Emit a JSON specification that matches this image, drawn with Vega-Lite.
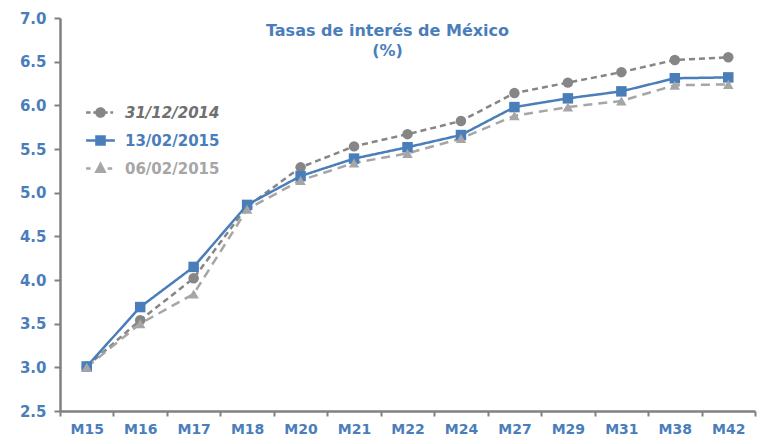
{
  "$schema": "https://vega.github.io/schema/vega-lite/v6.json",
  "width": 695,
  "height": 393,
  "autosize": {"type": "none"},
  "padding": {"left": 60, "top": 18, "right": 5, "bottom": 33},
  "background": "white",
  "config": {
    "view": {"stroke": null},
    "font": "DejaVu Sans"
  },
  "title": {
    "text": ["Tasas de interés de México", "(%)"],
    "color": "#4a7ebb",
    "fontSize": 16,
    "fontWeight": "bold",
    "font": "DejaVu Sans",
    "anchor": "middle",
    "frame": "group",
    "dx": -20,
    "offset": -48,
    "baseline": "top",
    "lineHeight": 20
  },
  "data": {
    "values": [
      {"m": "M15", "s": "31/12/2014", "v": 3.01},
      {"m": "M16", "s": "31/12/2014", "v": 3.54},
      {"m": "M17", "s": "31/12/2014", "v": 4.02},
      {"m": "M18", "s": "31/12/2014", "v": 4.84},
      {"m": "M20", "s": "31/12/2014", "v": 5.29},
      {"m": "M21", "s": "31/12/2014", "v": 5.53},
      {"m": "M22", "s": "31/12/2014", "v": 5.67},
      {"m": "M24", "s": "31/12/2014", "v": 5.82},
      {"m": "M27", "s": "31/12/2014", "v": 6.14},
      {"m": "M29", "s": "31/12/2014", "v": 6.26},
      {"m": "M31", "s": "31/12/2014", "v": 6.38},
      {"m": "M38", "s": "31/12/2014", "v": 6.52},
      {"m": "M42", "s": "31/12/2014", "v": 6.55},
      {"m": "M15", "s": "13/02/2015", "v": 3.01},
      {"m": "M16", "s": "13/02/2015", "v": 3.69},
      {"m": "M17", "s": "13/02/2015", "v": 4.15},
      {"m": "M18", "s": "13/02/2015", "v": 4.86},
      {"m": "M20", "s": "13/02/2015", "v": 5.19},
      {"m": "M21", "s": "13/02/2015", "v": 5.39},
      {"m": "M22", "s": "13/02/2015", "v": 5.52},
      {"m": "M24", "s": "13/02/2015", "v": 5.66},
      {"m": "M27", "s": "13/02/2015", "v": 5.98},
      {"m": "M29", "s": "13/02/2015", "v": 6.08},
      {"m": "M31", "s": "13/02/2015", "v": 6.16},
      {"m": "M38", "s": "13/02/2015", "v": 6.31},
      {"m": "M42", "s": "13/02/2015", "v": 6.32},
      {"m": "M15", "s": "06/02/2015", "v": 3.0},
      {"m": "M16", "s": "06/02/2015", "v": 3.5},
      {"m": "M17", "s": "06/02/2015", "v": 3.84},
      {"m": "M18", "s": "06/02/2015", "v": 4.81},
      {"m": "M20", "s": "06/02/2015", "v": 5.14},
      {"m": "M21", "s": "06/02/2015", "v": 5.34},
      {"m": "M22", "s": "06/02/2015", "v": 5.45},
      {"m": "M24", "s": "06/02/2015", "v": 5.62},
      {"m": "M27", "s": "06/02/2015", "v": 5.88},
      {"m": "M29", "s": "06/02/2015", "v": 5.98},
      {"m": "M31", "s": "06/02/2015", "v": 6.05},
      {"m": "M38", "s": "06/02/2015", "v": 6.23},
      {"m": "M42", "s": "06/02/2015", "v": 6.24}
    ]
  },
  "encoding": {
    "x": {
      "field": "m",
      "type": "nominal",
      "sort": null,
      "bandPosition": 0.5,
      "scale": {"type": "band", "paddingInner": 0, "paddingOuter": 0},
      "axis": {
        "title": null,
        "labelAngle": 0,
        "labelColor": "#4a7ebb",
        "labelFont": "DejaVu Sans",
        "labelFontSize": 14,
        "labelFontWeight": "bold",
        "labelPadding": 6,
        "tickBand": "extent",
        "tickColor": "#808080",
        "tickWidth": 2,
        "tickSize": 5,
        "domainColor": "#808080",
        "domainWidth": 2.5,
        "grid": false
      }
    },
    "y": {
      "field": "v",
      "type": "quantitative",
      "scale": {"domain": [2.5, 7.0], "nice": false, "zero": false},
      "axis": {
        "title": null,
        "values": [2.5, 3.0, 3.5, 4.0, 4.5, 5.0, 5.5, 6.0, 6.5, 7.0],
        "format": ".1f",
        "labelColor": "#4a7ebb",
        "labelFont": "DejaVu Sans",
        "labelFontSize": 15,
        "labelFontWeight": "bold",
        "labelPadding": 8,
        "tickColor": "#808080",
        "tickWidth": 2,
        "tickSize": 6,
        "domainColor": "#808080",
        "domainWidth": 2.5,
        "grid": false
      }
    },
    "color": {
      "field": "s",
      "type": "nominal",
      "sort": ["31/12/2014", "13/02/2015", "06/02/2015"],
      "scale": {"domain": ["31/12/2014", "13/02/2015", "06/02/2015"], "range": ["#868686", "#4a7ebb", "#a6a6a6"]},
      "legend": {
        "title": null,
        "orient": "none",
        "legendX": 30,
        "legendY": 84,
        "symbolSize": 324,
        "symbolStrokeWidth": 2.5,
        "rowPadding": 8,
        "labelOffset": 14,
        "labelFont": "DejaVu Sans",
        "labelFontSize": 15,
        "labelFontWeight": "bold",
        "symbolType": "M-1.6,0H-1.1M-0.8,0H-0.45M0.45,0H0.8M1.1,0H1.4M0.45,0A0.45,0.45 0 1,1 -0.45,0A0.45,0.45 0 1,1 0.45,0Z",
        "encode": {
          "symbols": {
            "update": {
              "shape": {"signal": "datum.value == '31/12/2014' ? 'M-1.6,0H-1.1M-0.8,0H-0.45M0.45,0H0.8M1.1,0H1.4M0.45,0A0.45,0.45 0 1,1 -0.45,0A0.45,0.45 0 1,1 0.45,0Z' : datum.value == '13/02/2015' ? 'M-1.6,0H1.6M-0.45,-0.45H0.45V0.45H-0.45Z' : 'M-1.6,0H-1.1M0.8,0H1.3M0,-0.5L0.45,0.35H-0.45Z'"},
              "fill": {"signal": "scale('color', datum.value)"},
              "stroke": {"signal": "scale('color', datum.value)"},
              "strokeDash": {"value": [1, 0]}
            }
          },
          "labels": {
            "update": {
              "fill": {"signal": "datum.value == '31/12/2014' ? '#707070' : datum.value == '13/02/2015' ? '#4a7ebb' : '#a6a6a6'"},
              "fontStyle": {"signal": "datum.value == '31/12/2014' ? 'italic' : 'normal'"}
            }
          }
        }
      }
    }
  },
  "layer": [
    {
      "mark": {"type": "line", "strokeWidth": 2.5},
      "encoding": {
        "strokeDash": {
          "condition": [
            {"test": "datum.s == '31/12/2014'", "value": [6, 4]},
            {"test": "datum.s == '06/02/2015'", "value": [9, 6]}
          ],
          "value": [1, 0]
        }
      }
    },
    {
      "mark": {"type": "point", "filled": true, "opacity": 1, "size": 110},
      "encoding": {
        "shape": {
          "condition": [
            {"test": "datum.s == '31/12/2014'", "value": "circle"},
            {"test": "datum.s == '06/02/2015'", "value": "triangle-up"}
          ],
          "value": "square"
        }
      }
    }
  ]
}
